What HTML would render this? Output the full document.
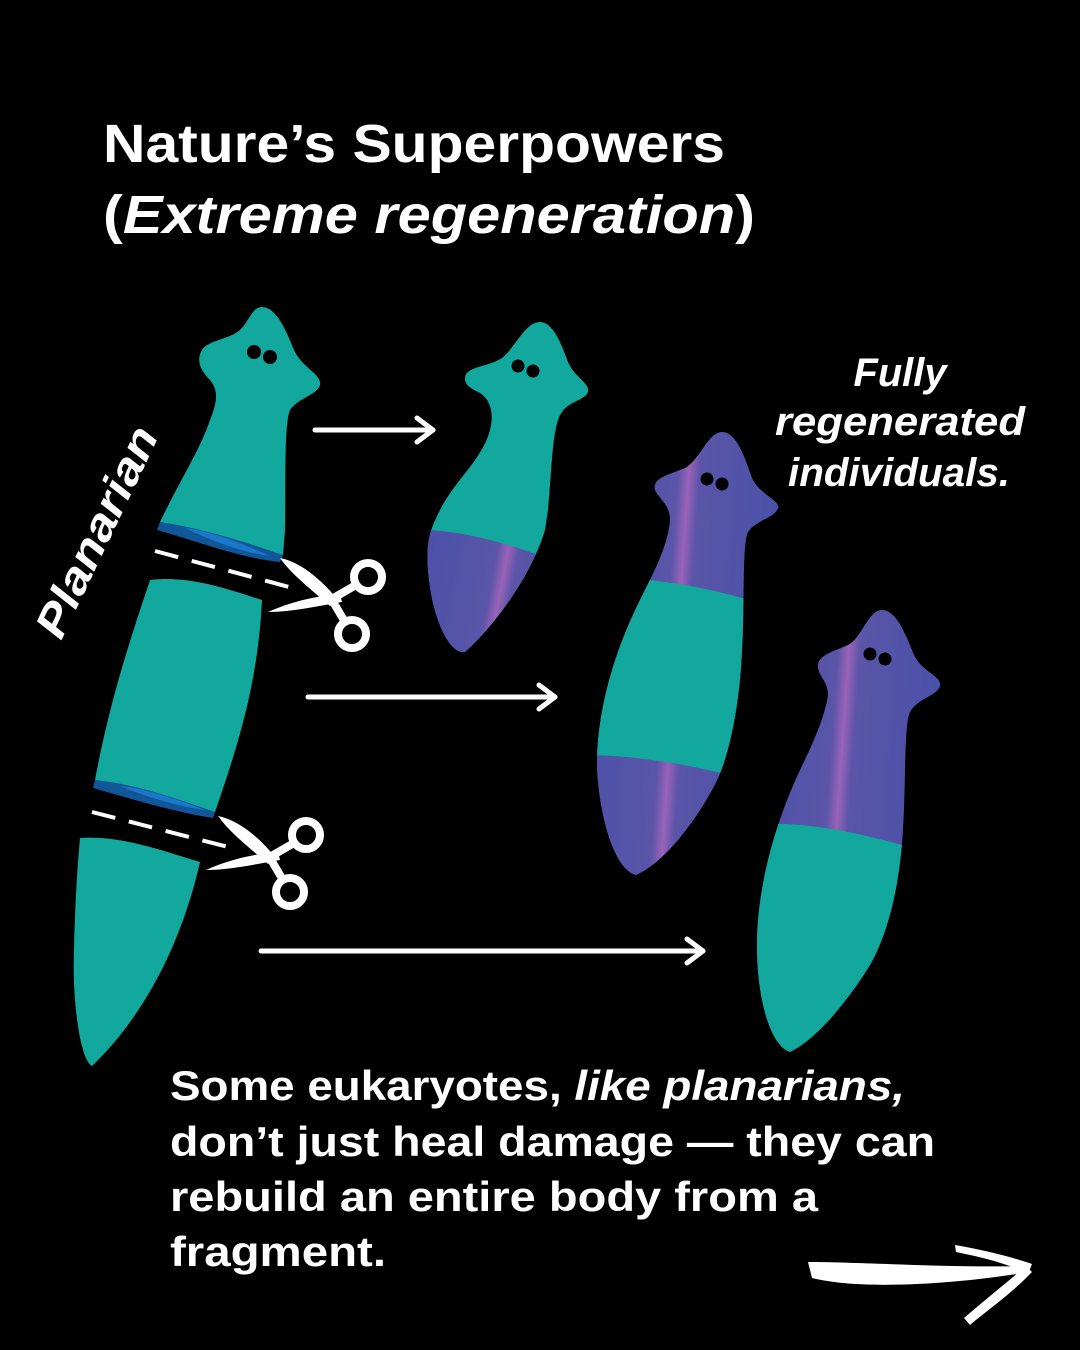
<!DOCTYPE html>
<html><head><meta charset="utf-8"><style>
html,body{margin:0;padding:0;background:#000;}
svg{display:block;}
text{font-family:"Liberation Sans",sans-serif;fill:#fff;font-weight:bold;}
</style></head><body>
<svg width="1080" height="1350" viewBox="0 0 1080 1350" xmlns="http://www.w3.org/2000/svg">
<defs>
<linearGradient id="pg" x1="0" y1="0" x2="1" y2="0.15">
<stop offset="0" stop-color="#4650a8"/><stop offset="0.45" stop-color="#5a55a8"/><stop offset="0.5" stop-color="#9a62b8"/><stop offset="0.55" stop-color="#5a55a8"/><stop offset="1" stop-color="#4650a8"/>
</linearGradient>
<clipPath id="w2"><path d="M540,322 C552,322 560,340 568,362 C575,378 590,383 588,392 C585,400 568,402 562,412 C552,425 552,470 548,510 L545,530 C530,580 490,630 465,652 C450,655 432,620 428,570 C426,540 430,530 440,510 C455,480 482,460 490,430 C495,410 488,398 480,393 C470,388 462,384 466,374 C472,366 490,366 502,358 C515,348 525,322 540,322 Z"/></clipPath>
<clipPath id="w3"><path d="M722,432 C736,432 744,455 752,478 C760,495 780,500 778,508 C775,518 756,520 748,532 C742,545 745,600 742,650 C740,700 730,760 712,790 C690,830 660,865 636,875 C615,870 600,820 597,770 C596,720 610,660 640,600 C655,570 668,545 670,520 C670,505 660,500 655,490 C652,478 668,475 685,468 C700,460 708,432 722,432 Z"/></clipPath>
<clipPath id="w4"><path d="M882,610 C896,610 905,633 914,655 C922,672 942,676 940,686 C937,696 918,698 910,712 C904,725 906,780 903,830 C900,880 890,930 870,965 C845,1005 815,1040 790,1052 C768,1045 756,990 757,940 C758,890 772,830 800,770 C815,740 826,712 828,695 C828,682 820,678 818,668 C816,656 832,652 848,645 C862,638 868,610 882,610 Z"/></clipPath>
</defs>

<path fill="#13a89e" d="M262,307 C276,307 286,330 294,350 C302,368 322,374 320,385 C317,395 298,398 290,410 C284,425 286,480 285,530 L283,555 C240,545 200,530 160,522 C180,480 200,450 210,420 C218,400 218,390 210,380 C200,370 196,360 202,350 C208,340 228,340 240,330 C250,320 252,307 262,307 Z"/>
<path fill="#12569a" d="M160,522 C200,528 240,540 283,555 L280,562 C240,558 200,542 157,530 Z"/>
<path fill="#1a78c8" d="M185,528 C215,532 245,545 270,556 C240,552 210,540 185,528 Z"/>
<circle cx="254" cy="352" r="7" fill="#000"/><circle cx="270" cy="357" r="7" fill="#000"/>
<path fill="#13a89e" d="M150,580 C190,575 230,590 262,600 C258,680 240,740 215,812 C175,800 135,790 95,780 C110,700 130,640 150,580 Z"/>
<path fill="#12569a" d="M95,780 C135,784 175,798 215,812 L213,818 C175,812 135,800 93,788 Z"/>
<path fill="#1a78c8" d="M120,786 C150,790 180,800 205,810 C175,806 145,796 120,786 Z"/>
<path fill="#13a89e" d="M80,838 C120,835 160,850 200,862 C180,950 140,1020 92,1066 C80,1060 72,1000 74,950 C75,900 78,860 80,838 Z"/>
<line x1="155" y1="551" x2="300" y2="590" stroke="#fff" stroke-width="4" stroke-dasharray="24,14"/>
<line x1="92" y1="812" x2="232" y2="848" stroke="#fff" stroke-width="4" stroke-dasharray="24,14"/>
<g fill="#fff">
<path d="M280,558 C300,562 320,578 338,600 L330,606 C312,590 292,575 280,558 Z"/>
<path d="M268,612 C290,602 315,596 340,594 L342,602 C318,606 292,612 268,612 Z"/>
</g>
<g fill="none" stroke="#fff" stroke-width="8"><circle cx="368" cy="577" r="14"/><circle cx="352" cy="634" r="14"/>
<line x1="330" y1="600" x2="356" y2="585"/><line x1="332" y1="600" x2="345" y2="622"/></g>
<g transform="translate(-62,258)">
<g fill="#fff">
<path d="M280,558 C300,562 320,578 338,600 L330,606 C312,590 292,575 280,558 Z"/>
<path d="M268,612 C290,602 315,596 340,594 L342,602 C318,606 292,612 268,612 Z"/>
</g>
<g fill="none" stroke="#fff" stroke-width="8"><circle cx="368" cy="577" r="14"/><circle cx="352" cy="634" r="14"/>
<line x1="330" y1="600" x2="356" y2="585"/><line x1="332" y1="600" x2="345" y2="622"/></g>
</g>

<g clip-path="url(#w2)">
<rect x="400" y="300" width="220" height="400" fill="#13a89e"/>
<path fill="url(#pg)" d="M400,528 L428,530 C470,532 510,545 545,557 L620,560 L620,700 L400,700 Z"/>
</g>
<circle cx="518" cy="366" r="6.5" fill="#000"/><circle cx="533" cy="371" r="6.5" fill="#000"/>
<g clip-path="url(#w3)">
<rect x="580" y="420" width="220" height="470" fill="url(#pg)"/>
<path fill="#13a89e" d="M580,578 C640,575 700,585 760,603 L760,782 C700,768 650,755 580,755 Z"/>
</g>
<circle cx="707" cy="479" r="6.5" fill="#000"/><circle cx="722" cy="484" r="6.5" fill="#000"/>
<g clip-path="url(#w4)">
<rect x="740" y="600" width="220" height="470" fill="url(#pg)"/>
<path fill="#13a89e" d="M740,825 C800,820 850,830 920,850 L920,1070 L740,1070 Z"/>
</g>
<circle cx="870" cy="654" r="6.5" fill="#000"/><circle cx="885" cy="659" r="6.5" fill="#000"/>

<g stroke="#fff" stroke-width="5" fill="none" stroke-linecap="round" stroke-linejoin="round">
<line x1="315" y1="430" x2="433" y2="430"/><polyline points="417,418 433,430 417,442"/>
<line x1="308" y1="697" x2="555" y2="697"/><polyline points="539,685 555,697 539,709"/>
<line x1="261" y1="951" x2="703" y2="951"/><polyline points="687,939 703,951 687,963"/>
</g>
<g fill="#fff">
<path d="M808,1262 C860,1262 950,1268 1028,1266 L1030,1272 C950,1285 860,1290 812,1278 Z"/>
<path d="M955,1245 C985,1250 1015,1258 1032,1264 L1028,1274 C1005,1262 975,1256 956,1252 Z"/>
<path d="M1026,1266 L1032,1272 C1010,1295 985,1312 970,1325 L964,1318 C985,1300 1005,1284 1026,1266 Z"/>
</g>

<text x="103" y="162" font-size="54" textLength="622" lengthAdjust="spacingAndGlyphs">Nature’s Superpowers</text>
<text x="103" y="233" font-size="54" textLength="652" lengthAdjust="spacingAndGlyphs">(<tspan font-style="italic">Extreme regeneration</tspan>)</text>
<text transform="translate(97,532) rotate(-64.5)" text-anchor="middle" dominant-baseline="central" font-size="44" font-style="italic" textLength="228" lengthAdjust="spacingAndGlyphs">Planarian</text>
<g font-style="italic" font-size="40" text-anchor="middle">
<text x="900" y="386" textLength="93" lengthAdjust="spacingAndGlyphs">Fully</text>
<text x="900" y="435" textLength="250" lengthAdjust="spacingAndGlyphs">regenerated</text>
<text x="899" y="486" textLength="222" lengthAdjust="spacingAndGlyphs">individuals.</text>
</g>
<g font-size="42">
<text x="170" y="1100" textLength="735" lengthAdjust="spacingAndGlyphs">Some eukaryotes, <tspan font-style="italic">like planarians,</tspan></text>
<text x="170" y="1156" textLength="765" lengthAdjust="spacingAndGlyphs">don’t just heal damage — they can</text>
<text x="170" y="1211" textLength="648" lengthAdjust="spacingAndGlyphs">rebuild an entire body from a</text>
<text x="170" y="1266" textLength="216" lengthAdjust="spacingAndGlyphs">fragment.</text>
</g>
</svg>
</body></html>
